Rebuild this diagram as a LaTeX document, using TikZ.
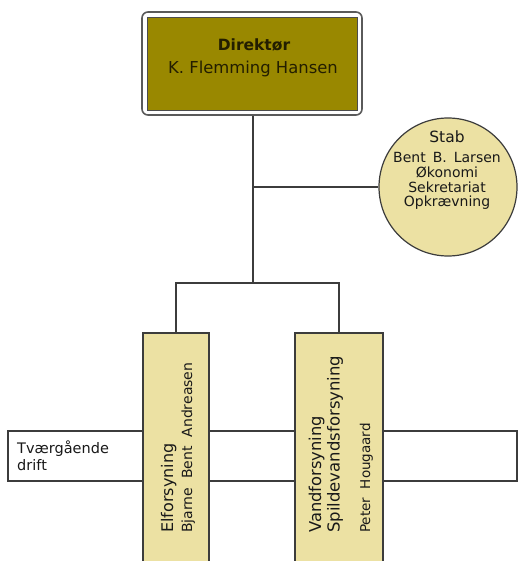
\documentclass[tikz,border=0pt]{standalone}
\usepackage{fontspec}
\setmainfont{DejaVu Sans}
\definecolor{dirolive}{RGB}{153,136,0}
\definecolor{paleyel}{RGB}{236,225,163}
\definecolor{linegray}{RGB}{60,60,60}
\definecolor{frame}{RGB}{90,90,90}
\definecolor{dtext}{RGB}{35,30,0}
\tikzset{
  conn/.style={draw=linegray, line width=1.5pt},
  unitbox/.style={draw=linegray, fill=paleyel, line width=1.5pt, minimum height=270pt, inner sep=0pt},
  vtext/.style={rotate=90, anchor=base west, inner sep=0pt, text=black!90},
  stabtext/.style={inner sep=0pt, anchor=base, text=black!90, font=\fontsize{14}{16}\selectfont}
}
\begin{document}
\begin{tikzpicture}[x=1pt,y=-1pt]
\useasboundingbox (0,0) rectangle (518,561);
\clip (0,0) rectangle (518,561);
% cross-cutting box
\node[draw=linegray, fill=white, line width=1.5pt, minimum width=509pt, minimum height=50pt, inner sep=0pt] (tvaer) at (262.5,456) {};
\node[anchor=base west, inner sep=0pt, align=left, font=\fontsize{14.5}{17}\selectfont, text=black!90] (tvaertext) at (17,470) {Tværgående\\drift};
% director
\node[draw=frame, fill=white, rounded corners=6pt, line width=1.6pt, minimum width=220pt, minimum height=103pt, inner sep=0pt] (dirout) at (252,63.5) {};
\node[draw=black!70, fill=dirolive, line width=0.8pt, minimum width=210pt, minimum height=93pt, inner sep=0pt] (dir) at (252,63.5) {};
\node[anchor=base, inner sep=0pt, text=dtext, font=\fontsize{15.5}{18}\selectfont\bfseries] (dirtitle) at (254,51) {Direktør};
\node[anchor=base, inner sep=0pt, text=dtext, font=\fontsize{16.4}{19}\selectfont] (dirname) at (253,74) {K. Flemming Hansen};
% staff circle
\node[circle, draw=linegray, fill=paleyel, line width=1.2pt, minimum size=138pt, inner sep=0pt] (stab) at (448,187) {};
\node[stabtext, font=\fontsize{15.5}{18}\selectfont] (stab1) at (447,143) {Stab};
\node[stabtext] (stab2) at (447,163) {Bent\hspace{0.5em}B.\hspace{0.5em}Larsen};
\node[stabtext] (stab3) at (447,178) {Økonomi};
\node[stabtext] (stab4) at (447,193) {Sekretariat};
\node[stabtext] (stab5) at (447,207) {Opkrævning};
% units
\node[unitbox, minimum width=66pt] (el) at (176,468) {};
\node[unitbox, minimum width=88pt] (vand) at (339,468) {};
\node[vtext, font=\fontsize{16}{19}\selectfont] (elt1) at (173,533) {Elforsyning};
\node[vtext, font=\fontsize{14}{17}\selectfont] (elt2) at (192,533) {Bjarne\ \ Bent\ \ Andreasen};
\node[vtext, font=\fontsize{16.3}{19}\selectfont] (vt1) at (321,533) {Vandforsyning};
\node[vtext, font=\fontsize{16.5}{19}\selectfont] (vt2) at (339.5,533) {Spildevandsforsyning};
\node[vtext, font=\fontsize{13.5}{16}\selectfont] (vt3) at (370,533) {Peter\ \ Hougaard};
% connectors
\coordinate (brc) at (253,283);
\draw[conn] (dirout.south -| brc) -- (brc);
\draw[conn] (brc |- stab.west) -- (stab.west);
\draw[conn] (el.north) -- (el.north |- brc) -- (vand.north |- brc) -- (vand.north);
\end{tikzpicture}
\end{document}
